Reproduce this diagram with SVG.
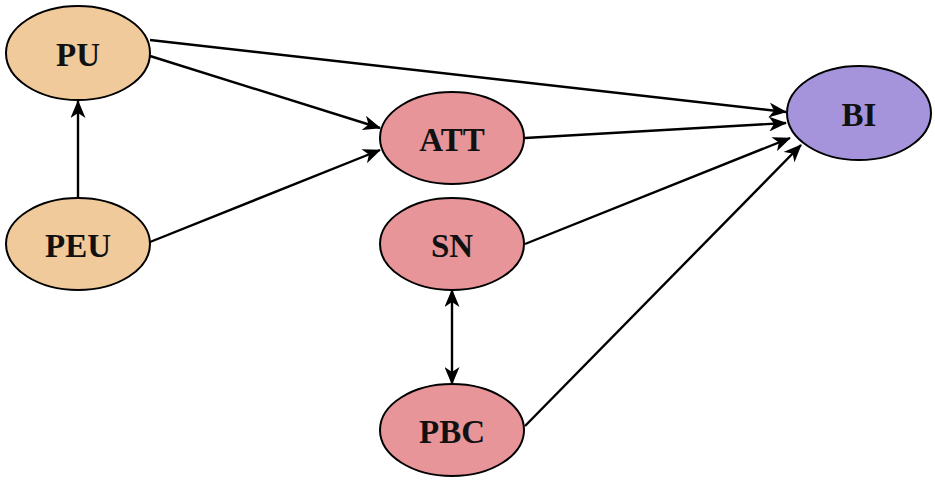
<svg xmlns="http://www.w3.org/2000/svg" width="935" height="480" viewBox="0 0 935 480">
<defs>
<marker id="ah" viewBox="0 0 18 15" refX="17" refY="7.5" markerWidth="18" markerHeight="15" markerUnits="userSpaceOnUse" orient="auto-start-reverse">
<path d="M0,0 L18,7.5 L0,15 L5,7.5 Z" fill="#000"/>
</marker>
</defs>
<style>
.n{stroke:#000;stroke-width:2}
.o{fill:#F0CA9A}
.p{fill:#E8959A}
.v{fill:#A594DC}
.t{font-family:"Liberation Serif","DejaVu Serif",serif;font-weight:bold;font-size:33px;text-anchor:middle;dominant-baseline:central;fill:#111}
.e{stroke:#000;stroke-width:2.4;fill:none;marker-end:url(#ah)}
</style>
<rect width="935" height="480" fill="#fff"/>
<g id="connectors">
<line class="e" x1="150" y1="40" x2="786" y2="112"/>
<line class="e" x1="150" y1="56" x2="380" y2="128"/>
<line class="e" x1="150" y1="242" x2="380" y2="150"/>
<line class="e" x1="78" y1="198" x2="78" y2="101"/>
<line class="e" x1="525" y1="138" x2="786" y2="123"/>
<line class="e" x1="525" y1="244" x2="790" y2="138"/>
<line class="e" x1="525" y1="426" x2="801" y2="145"/>
<line class="e" x1="452" y1="290" x2="452" y2="384" style="marker-start:url(#ah)"/>
</g>
<g id="PU"><ellipse class="n o" cx="78" cy="53" rx="72" ry="47"/><text class="t" x="78" y="55">PU</text></g>
<g id="PEU"><ellipse class="n o" cx="78" cy="244" rx="72" ry="46"/><text class="t" x="78" y="246">PEU</text></g>
<g id="ATT"><ellipse class="n p" cx="452" cy="138" rx="72" ry="46"/><text class="t" x="452" y="140">ATT</text></g>
<g id="SN"><ellipse class="n p" cx="452" cy="244" rx="72" ry="46"/><text class="t" x="452" y="246">SN</text></g>
<g id="PBC"><ellipse class="n p" cx="452" cy="430" rx="72" ry="46"/><text class="t" x="452" y="432">PBC</text></g>
<g id="BI"><ellipse class="n v" cx="859" cy="113" rx="72" ry="47"/><text class="t" x="859" y="115">BI</text></g>
</svg>
